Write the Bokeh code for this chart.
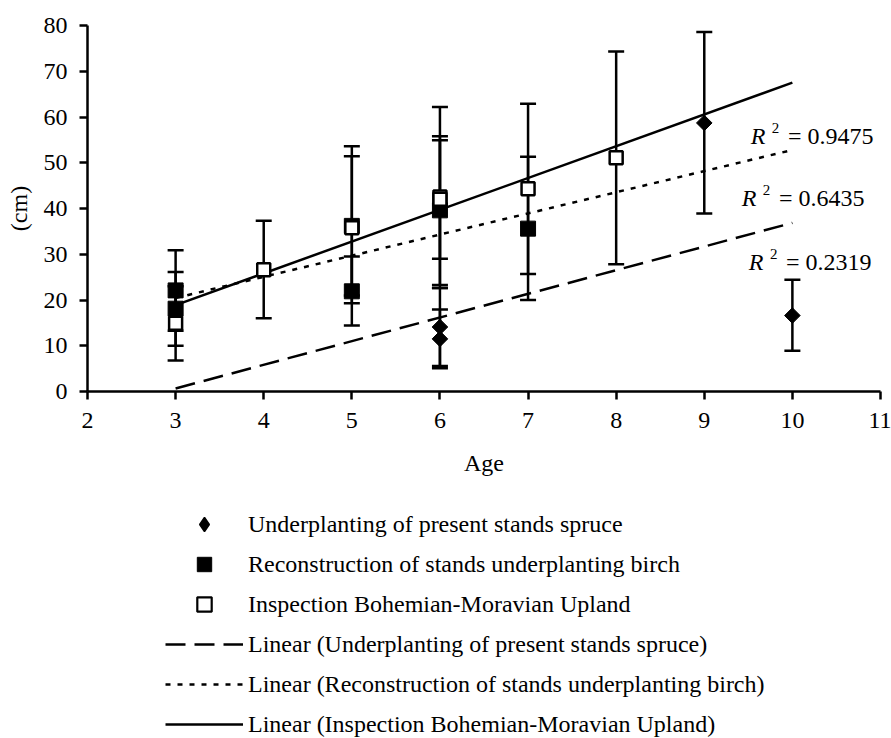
import numpy as np
from bokeh.plotting import figure
from bokeh.models import (ColumnDataSource, Whisker, TeeHead, Legend, LegendItem,
                          Label, Range1d, FixedTicker)
from bokeh.layouts import column
from bokeh.embed import file_html
from bokeh.resources import INLINE
from bokeh.core.properties import value

# ---------------- data ----------------
spruce_age = [6, 6, 9, 10]
spruce_cm = [14.1, 11.5, 58.7, 16.6]
spruce_lo = [5.6, 5.1, 38.9, 8.9]
spruce_hi = [22.6, 17.9, 78.6, 24.4]

birch_age = [3, 3, 5, 5, 6, 7]
birch_cm = [22.1, 18.1, 36.2, 21.9, 39.6, 35.6]
birch_lo = [13.3, 10.0, 21.0, 14.4, 23.3, 20.0]
birch_hi = [30.9, 26.1, 51.4, 29.5, 55.8, 51.3]

upland_age = [3, 4, 5, 6, 6, 7, 8]
upland_cm = [14.9, 26.6, 35.8, 42.5, 42.0, 44.3, 51.1]
upland_lo = [6.8, 16.0, 19.3, 22.6, 29.0, 25.7, 27.8]
upland_hi = [23.0, 37.3, 53.6, 62.2, 54.9, 62.9, 74.3]

series_names = ["Underplanting of present stands spruce",
                "Reconstruction of stands underplanting birch",
                "Inspection Bohemian-Moravian Upland"]
trend_names = ["Linear (" + n + ")" for n in series_names]
r2_texts = ["0.2319", "0.6435", "0.9475"]
x_ticks = list(range(2, 12))
y_ticks = list(range(0, 90, 10))
x_label = "Age"
y_label = "(cm)"

FONT = "Liberation Serif"
FS = "24px"

series = [
    (spruce_age, spruce_cm, spruce_lo, spruce_hi, "20 9"),
    (birch_age, birch_cm, birch_lo, birch_hi, "5 7"),
    (upland_age, upland_cm, upland_lo, upland_hi, "solid"),
]
marker_styles = [
    dict(marker="square", angle=np.pi / 4, size=11, fill_color="black", line_color="black", line_width=1),
    dict(marker="square", angle=0.0, size=15, fill_color="black", line_color="black", line_width=1),
    dict(marker="square", angle=0.0, size=13, fill_color="white", line_color="black", line_width=2.5),
]
# the key cannot rotate markers, so the spruce key uses the diamond marker
legend_marker_styles = [
    dict(marker="diamond", fill_color="black", line_color="black", line_width=1.5),
    dict(marker="square", fill_color="black", line_color="black", line_width=1),
    dict(marker="square", fill_color="white", line_color="black", line_width=2.2),
]
x_all = spruce_age + birch_age + upland_age
x_fit = np.array([min(x_all), max(x_all)], dtype=float)
fits = [np.polyfit(ages, vals, 1) for ages, vals, _, _, _ in series]

# ---------------- main plot ----------------
p = figure(width=891, height=500, x_range=Range1d(2, 11), y_range=Range1d(0, 80),
           output_backend="svg", toolbar_location=None,
           min_border_left=87, min_border_right=11, min_border_top=25, min_border_bottom=109)
p.outline_line_color = None
p.grid.visible = False
p.background_fill_color = "white"
p.border_fill_color = "white"

# error bars
for ages, vals, lo, hi, _ in series:
    src = ColumnDataSource(dict(x=ages, y=vals, lo=lo, hi=hi))
    w = Whisker(source=src, base="x", lower="lo", upper="hi", dimension="height",
                line_color="black", line_width=2.5,
                lower_head=TeeHead(size=16, line_width=2.5, line_color="black"),
                upper_head=TeeHead(size=16, line_width=2.5, line_color="black"))
    p.add_layout(w)

# linear trends
for (k, b), (_, _, _, _, dash) in zip(fits, series):
    p.line(x_fit, k * x_fit + b, line_color="black", line_width=2.5, line_dash=dash)

# markers
for (ages, vals, _, _, _), st in zip(series, marker_styles):
    p.scatter(ages, vals, **st)

for ax in (p.xaxis[0], p.yaxis[0]):
    ax.axis_line_width = 2.5
    ax.axis_line_color = "black"
    ax.major_tick_line_width = 2.5
    ax.major_tick_line_color = "black"
    ax.major_tick_out = 8
    ax.major_tick_in = 0
    ax.minor_tick_line_color = None
    ax.major_label_text_font = FONT
    ax.major_label_text_font_size = FS
    ax.major_label_text_color = "black"
    ax.axis_label_text_font = FONT
    ax.axis_label_text_font_size = FS
    ax.axis_label_text_font_style = "normal"
    ax.axis_label_text_color = "black"

p.xaxis.ticker = FixedTicker(ticks=x_ticks)
p.yaxis.ticker = FixedTicker(ticks=y_ticks)
p.xaxis.axis_label = x_label
p.yaxis.axis_label = y_label
p.xaxis.major_label_standoff = 13
p.xaxis.axis_label_standoff = 19
p.yaxis.major_label_standoff = 12
p.yaxis.axis_label_standoff = 9

# R^2 annotations (R italic, superscript 2, value)
r2_pos = [(9.506, 28.20), (9.426, 42.40), (9.528, 55.74)]
for (lx, ly), txt in zip(r2_pos, r2_texts):
    p.add_layout(Label(x=lx, y=ly, text="R", text_font=FONT, text_font_size=FS,
                       text_font_style="italic", text_baseline="alphabetic", text_color="black"))
    p.add_layout(Label(x=lx + 0.239, y=ly + 1.75, text="2", text_font=FONT, text_font_size="15px",
                       text_baseline="alphabetic", text_color="black"))
    p.add_layout(Label(x=lx + 0.421, y=ly, text="= " + txt, text_font=FONT, text_font_size=FS,
                       text_baseline="alphabetic", text_color="black"))

# ---------------- legend panel (same series, drawn off-range so only the key shows) ----------------
lg = figure(width=891, height=238, x_range=Range1d(-200, -199), y_range=Range1d(-200, -199),
            output_backend="svg", toolbar_location=None, min_border=0,
            x_axis_type=None, y_axis_type=None)
lg.outline_line_color = None
lg.grid.visible = False
lg.background_fill_color = "white"
lg.border_fill_color = "white"

items = []
for name, (ages, vals, _, _, _), st in zip(series_names, series, legend_marker_styles):
    r = lg.scatter(ages, vals, **st)
    items.append(LegendItem(label=value(name), renderers=[r]))
for name, (k, b), (_, _, _, _, dash) in zip(trend_names, fits, series):
    r = lg.line(x_fit, k * x_fit + b, line_color="black", line_width=2.5, line_dash=dash)
    items.append(LegendItem(label=value(name), renderers=[r]))

legend = Legend(items=items, location=(78, -4), orientation="vertical",
                glyph_width=78, glyph_height=36, label_height=36, label_standoff=5,
                spacing=4, padding=0, margin=0, border_line_color=None,
                background_fill_alpha=0, label_text_font=FONT, label_text_font_size=FS,
                label_text_color="black")
lg.add_layout(legend)

layout = column(p, lg, spacing=0)
open("out.html", "w").write(file_html(layout, INLINE))
